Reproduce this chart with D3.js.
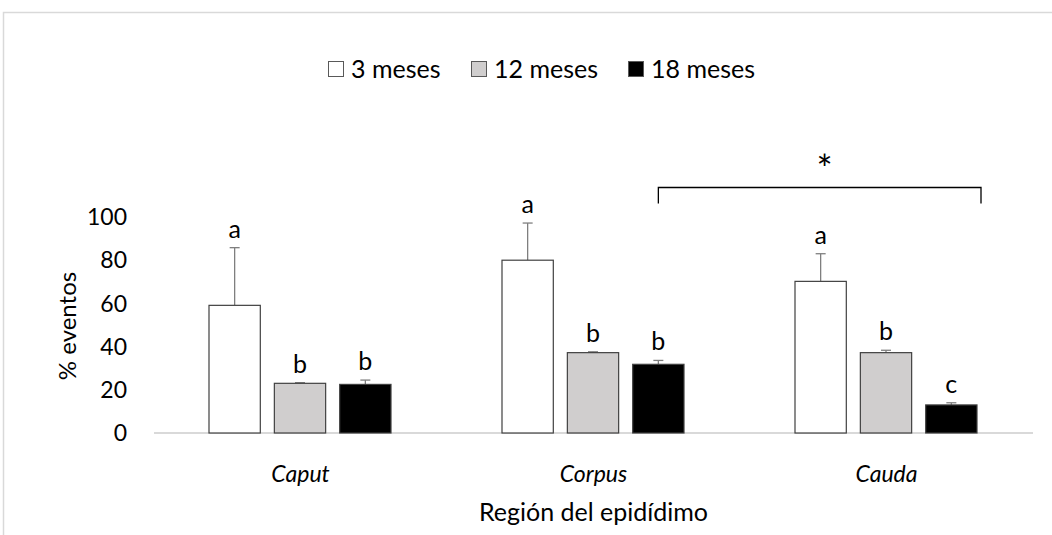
<!DOCTYPE html>
<html>
<head>
<meta charset="utf-8">
<script src="https://cdn.jsdelivr.net/npm/d3@7"></script>
<style>
  html, body { margin: 0; padding: 0; background: #fff; }
  svg { display: block; font-family: Lato, "Open Sans", sans-serif; }
</style>
</head>
<body>
<svg id="chart" width="1052" height="535"></svg>
<script>
// Regions of the epididymis and age groups
const regions = ["Caput", "Corpus", "Cauda"];
const ages = ["3 meses", "12 meses", "18 meses"];

// Mean % of events per age group, one array per region order
const mean3 = [59.1, 80.0, 70.2];
const mean12 = [23.0, 37.2, 37.2];
const mean18 = [22.5, 31.8, 13.0];

// Upper error (mean + SEM)
const err3 = [85.8, 97.2, 83.0];
const err12 = [23.3, 37.6, 38.3];
const err18 = [24.5, 33.6, 14.0];

// Significance letters
const letters3 = ["a", "a", "a"];
const letters12 = ["b", "b", "b"];
const letters18 = ["b", "b", "c"];

const yTicks = [0, 20, 40, 60, 80, 100];

const fills = { "3 meses": "#ffffff", "12 meses": "#d0cece", "18 meses": "#000000" };
const strokes = { "3 meses": "#404040", "12 meses": "#404040", "18 meses": "#404040" };

const rows = [];
regions.forEach((r, i) => {
  rows.push({ region: r, age: ages[0], value: mean3[i], err: err3[i], letter: letters3[i] });
  rows.push({ region: r, age: ages[1], value: mean12[i], err: err12[i], letter: letters12[i] });
  rows.push({ region: r, age: ages[2], value: mean18[i], err: err18[i], letter: letters18[i] });
});

const svg = d3.select("#chart");

// outer chart frame
svg.append("rect")
  .attr("x", 3.5).attr("y", 12.5)
  .attr("width", 1100).attr("height", 600)
  .attr("fill", "none").attr("stroke", "#d9d9d9").attr("stroke-width", 1.5);

const x0 = d3.scaleBand().domain(regions).range([154, 1033]).padding(0);
const x1 = d3.scaleBand().domain(ages).range([55, 237]).paddingInner(0.215).paddingOuter(0);
const y = d3.scaleLinear().domain([0, 100]).range([433, 217]);

// y tick labels
svg.append("g")
  .selectAll("text")
  .data(yTicks)
  .join("text")
  .attr("x", 127)
  .attr("y", d => y(d))
  .attr("dy", "0.36em")
  .attr("text-anchor", "end")
  .attr("font-size", 23)
  .attr("fill", "#000")
  .text(d => d);

// baseline
svg.append("line")
  .attr("x1", x0.range()[0]).attr("x2", x0.range()[1])
  .attr("y1", y(0)).attr("y2", y(0))
  .attr("stroke", "#d9d9d9").attr("stroke-width", 2);

const g = svg.append("g");

// error bars (upper only)
const eb = g.selectAll("g.err").data(rows).join("g").attr("class", "err");
const cx = d => x0(d.region) + x1(d.age) + x1.bandwidth() / 2;
eb.append("line")
  .attr("x1", cx).attr("x2", cx)
  .attr("y1", d => y(d.value)).attr("y2", d => y(d.err))
  .attr("stroke", "#7f7f7f").attr("stroke-width", 1.3);
eb.append("line")
  .attr("x1", d => cx(d) - 5).attr("x2", d => cx(d) + 5)
  .attr("y1", d => y(d.err)).attr("y2", d => y(d.err))
  .attr("stroke", "#7f7f7f").attr("stroke-width", 1.3);

// bars
g.selectAll("rect.bar")
  .data(rows)
  .join("rect")
  .attr("class", "bar")
  .attr("x", d => x0(d.region) + x1(d.age))
  .attr("y", d => y(d.value))
  .attr("width", x1.bandwidth())
  .attr("height", d => y(0) - y(d.value))
  .attr("fill", d => fills[d.age])
  .attr("stroke", d => strokes[d.age])
  .attr("stroke-width", 1.2);

// significance letters
g.selectAll("text.letter")
  .data(rows)
  .join("text")
  .attr("class", "letter")
  .attr("x", cx)
  .attr("y", d => y(d.err) - 10)
  .attr("text-anchor", "middle")
  .attr("font-size", 25)
  .attr("fill", "#000")
  .text(d => d.letter);

// category labels
svg.append("g")
  .selectAll("text")
  .data(regions)
  .join("text")
  .attr("x", d => x0(d) + x0.bandwidth() / 2)
  .attr("y", 482)
  .attr("text-anchor", "middle")
  .attr("font-size", 23)
  .attr("font-style", "italic")
  .text(d => d);

// axis titles
svg.append("text")
  .attr("x", (x0.range()[0] + x0.range()[1]) / 2)
  .attr("y", 521)
  .attr("text-anchor", "middle")
  .attr("font-size", 25)
  .text("Región del epidídimo");

svg.append("text")
  .attr("transform", "translate(76,326) rotate(-90)")
  .attr("text-anchor", "middle")
  .attr("font-size", 24)
  .text("% eventos");

// Corpus vs Cauda (18 meses) comparison bracket
const bx1 = cx(rows[5]);
const bx2 = x0("Cauda") + x1("18 meses") + x1.bandwidth() + 4;
const by = 187.5;
svg.append("path")
  .attr("d", `M${bx1},${by + 16}V${by}H${bx2}V${by + 16}`)
  .attr("fill", "none").attr("stroke", "#000").attr("stroke-width", 1.3);
svg.append("text")
  .attr("x", (bx1 + bx2) / 2 + 5)
  .attr("y", 183)
  .attr("text-anchor", "middle")
  .attr("font-size", 38)
  .text("*");

// legend
const legendX = [328, 471, 628];
const leg = svg.append("g").selectAll("g").data(ages).join("g")
  .attr("transform", (d, i) => `translate(${legendX[i]},61)`);
leg.append("rect")
  .attr("x", 0.5).attr("y", 0.5).attr("width", 15).attr("height", 15)
  .attr("fill", d => fills[d]).attr("stroke", "#595959").attr("stroke-width", 1);
leg.append("text")
  .attr("x", 23).attr("y", 17)
  .attr("font-size", 25)
  .text(d => d);
</script>
</body>
</html>
